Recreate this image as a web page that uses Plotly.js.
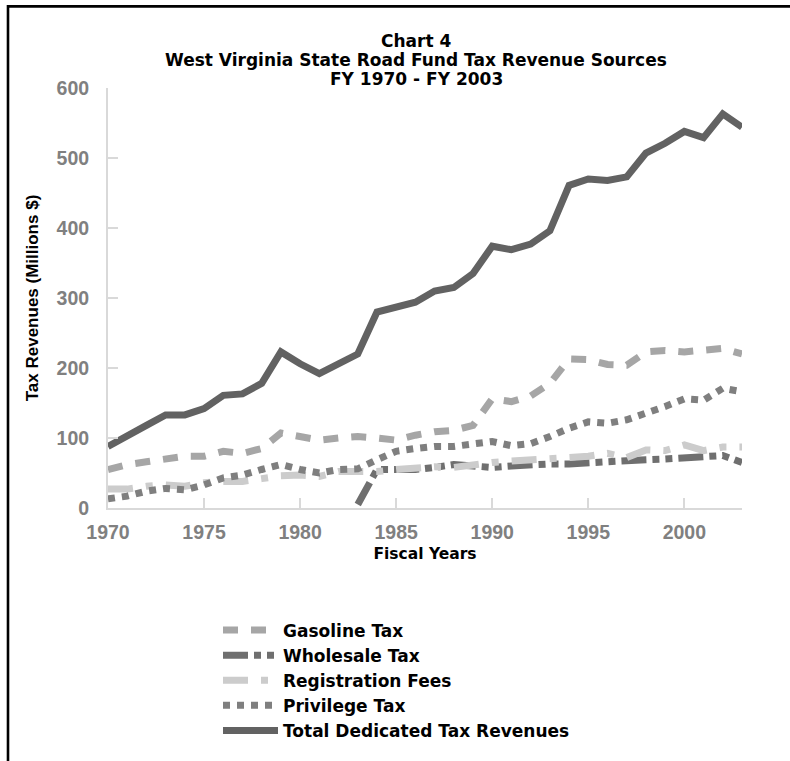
<!DOCTYPE html>
<html>
<head>
<meta charset="utf-8">
<script src="https://cdn.plot.ly/plotly-3.0.1.min.js"></script>
<style>
html,body{margin:0;padding:0;background:#fff;}
#chart{width:790px;height:761px;}
</style>
</head>
<body>
<div id="chart"></div>
<script>
var years = [1970,1971,1972,1973,1974,1975,1976,1977,1978,1979,
             1980,1981,1982,1983,1984,1985,1986,1987,1988,1989,
             1990,1991,1992,1993,1994,1995,1996,1997,1998,1999,
             2000,2001,2002,2003];

var gasolineTax = [55,62,66,71,74,74,81,78,85,107,
                   102,97,100,102,100,97,104,109,111,118,
                   156,152,160,178,213,212,205,204,223,225,
                   223,226,228,220];

var wholesaleTax = [null,null,null,null,null,null,null,null,null,null,
                    null,null,null,5,55,55,55,58,62,60,
                    58,60,62,63,63,65,65,68,69,70,
                    71,72,75,65];

var registrationFees = [27,27,31,33,31,36,38,38,42,46,
                        47,45,52,52,52,55,57,59,58,62,
                        65,67,69,71,71,74,78,72,83,82,
                        90,82,87,87];

var privilegeTax = [13,17,24,28,26,33,43,47,55,62,
                    55,50,55,56,69,81,85,88,88,92,
                    95,89,92,102,114,123,121,126,135,145,
                    156,154,171,166];

var totalRevenues = [88,104,118,133,133,142,161,163,178,223,
                     206,192,206,220,280,287,294,310,315,335,
                     374,369,377,396,461,470,468,473,507,521,
                     538,529,563,544];

var seriesNames = ['Gasoline Tax','Wholesale Tax','Registration Fees','Privilege Tax','Total Dedicated Tax Revenues'];
var titleLines = ['Chart 4','West Virginia State Road Fund Tax Revenue Sources','FY 1970 - FY 2003'];

var WIDE = 'DejaVu Sans, Verdana, sans-serif';
var NARROW = 'Liberation Sans, Arial, sans-serif';

function tr(name, y, color, dash){
  return {x: years, y: y, name: name, type: 'scatter', mode: 'lines',
          connectgaps: false,
          line: {color: color, width: 7, dash: dash}};
}

var data = [
  tr(seriesNames[0], gasolineTax, '#a6a6a6', '15px,13px'),
  tr(seriesNames[1], wholesaleTax, '#6f6f6f', '25px,6px,7px,6px,7px,6px'),
  tr(seriesNames[2], registrationFees, '#cccccc', '25px,13px,7px,13px'),
  tr(seriesNames[3], privilegeTax, '#7f7f7f', '7px,7px'),
  tr(seriesNames[4], totalRevenues, '#626262', 'solid')
];

var W = 790, H = 761, L = 108, R = 48, T = 88, B = 251;
var pw = W - L - R, ph = H - T - B;
function px(p){ return (p - L) / pw; }
function py(p){ return (H - B - p) / ph; }

var annotations = titleLines.map(function(t, i){
  return {text: t, xref: 'paper', yref: 'paper', x: px(416), y: py(41 + i*19.2),
          xanchor: 'center', yanchor: 'middle', showarrow: false,
          font: {family: WIDE, size: 17, color: '#000', weight: 'bold'}};
});

var layout = {
  width: W, height: H,
  margin: {l: L, r: R, t: T, b: B, pad: 0},
  paper_bgcolor: '#fff', plot_bgcolor: '#fff',
  showlegend: true,
  legend: {x: px(218), y: py(615), xanchor: 'left', yanchor: 'top',
           bgcolor: 'rgba(0,0,0,0)', borderwidth: 0,
           font: {family: WIDE, size: 17, color: '#000', weight: 'bold'},
           tracegroupgap: 0, itemwidth: 55},
  xaxis: {range: [1970, 2003], tick0: 1970, dtick: 5, tickmode: 'linear',
          showline: true, linecolor: '#d9d9d9', linewidth: 2,
          ticks: 'inside', ticklen: 10, tickwidth: 2, tickcolor: '#d9d9d9',
          showgrid: false, zeroline: false, ticklabelstandoff: 6,
          tickfont: {family: NARROW, size: 19.5, color: '#808080', weight: 'bold'},
          title: {text: 'Fiscal Years', standoff: 6,
                  font: {family: WIDE, size: 15.5, color: '#000', weight: 'bold'}}},
  yaxis: {range: [0, 600], tick0: 0, dtick: 100, tickmode: 'linear',
          showline: true, linecolor: '#d9d9d9', linewidth: 2,
          ticks: 'inside', ticklen: 10, tickwidth: 2, tickcolor: '#d9d9d9',
          showgrid: false, zeroline: false, ticklabelstandoff: 13,
          tickfont: {family: NARROW, size: 19.5, color: '#808080', weight: 'bold'},
          title: {text: 'Tax Revenues (Millions $)', standoff: 14,
                  font: {family: NARROW, size: 17, color: '#000', weight: 'bold'}}},
  annotations: annotations,
  shapes: [{type: 'rect', xref: 'paper', yref: 'paper',
            x0: px(8), x1: px(810), y0: py(790), y1: py(6),
            line: {color: '#000', width: 2.6}, fillcolor: 'rgba(0,0,0,0)', layer: 'above'}]
};

Plotly.newPlot('chart', data, layout, {displayModeBar: false, staticPlot: true});
</script>
</body>
</html>
